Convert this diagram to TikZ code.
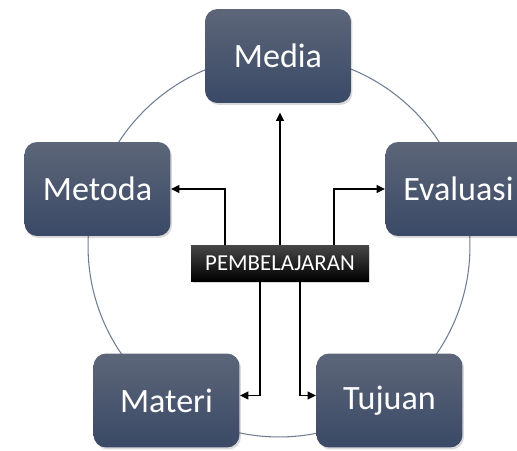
\documentclass[tikz,border=0pt]{standalone}
\usepackage{fontspec}
\setmainfont{Carlito}
\usetikzlibrary{arrows.meta,shadows}
\definecolor{boxTop}{HTML}{5D6679}
\definecolor{boxBottom}{HTML}{3A4966}
\definecolor{ringGray}{HTML}{6E7C94}
\tikzset{
  topic box/.style={rounded corners=0.25cm, top color=boxTop,
    bottom color=boxBottom, draw=none, text=white,
    minimum width=2.92cm, minimum height=1.88cm, inner sep=0pt,
    font=\fontsize{19.4}{23}\selectfont,
    drop shadow={shadow xshift=0.03cm, shadow yshift=-0.04cm, opacity=0.3}},
  core box/.style={top color=black!72, bottom color=black, draw=none,
    text=white, minimum width=3.56cm, minimum height=0.72cm, inner sep=0pt,
    font=\fontsize{13}{15}\selectfont,
    drop shadow={shadow xshift=0.03cm, shadow yshift=-0.04cm, opacity=0.3}},
  flow/.style={draw=black, line width=1.1pt,
    -{Triangle[length=0.17cm,width=0.15cm]}}
}
\begin{document}
\begin{tikzpicture}[x=0.02cm,y=-0.02cm]
  \useasboundingbox (0,0) rectangle (517,450);
  \clip (0,0) rectangle (517,450);
  % ring behind the boxes
  \coordinate (hub) at (279,246);
  \draw[ringGray, line width=0.6pt] (hub) circle[radius=3.82cm];
  % topics round the ring
  \node[topic box] (media) at (278,56) {Media};
  \node[topic box] (metoda) at (97.5,189) {Metoda};
  \node[topic box] (evaluasi) at (458.5,189) {Evaluasi};
  \node[topic box] (materi) at (166.5,400.5) {Materi};
  \node[topic box] (tujuan) at (389.5,400.5) {Tujuan};
  \node[core box] (pemb) at (280,263) {PEMBELAJARAN};
  % connectors
  \draw[flow, shorten >=0.18cm] (pemb.north) -- (pemb.north |- media.south);
  \draw[flow] ([xshift=-1.1cm]pemb.north) |- (metoda.east);
  \draw[flow] ([xshift=1.08cm]pemb.north) |- (evaluasi.west);
  \draw[flow] ([xshift=-0.4cm]pemb.south) |- ([yshift=0.1cm]materi.east);
  \draw[flow] ([xshift=0.4cm]pemb.south) |- ([yshift=0.1cm]tujuan.west);
\end{tikzpicture}
\end{document}
